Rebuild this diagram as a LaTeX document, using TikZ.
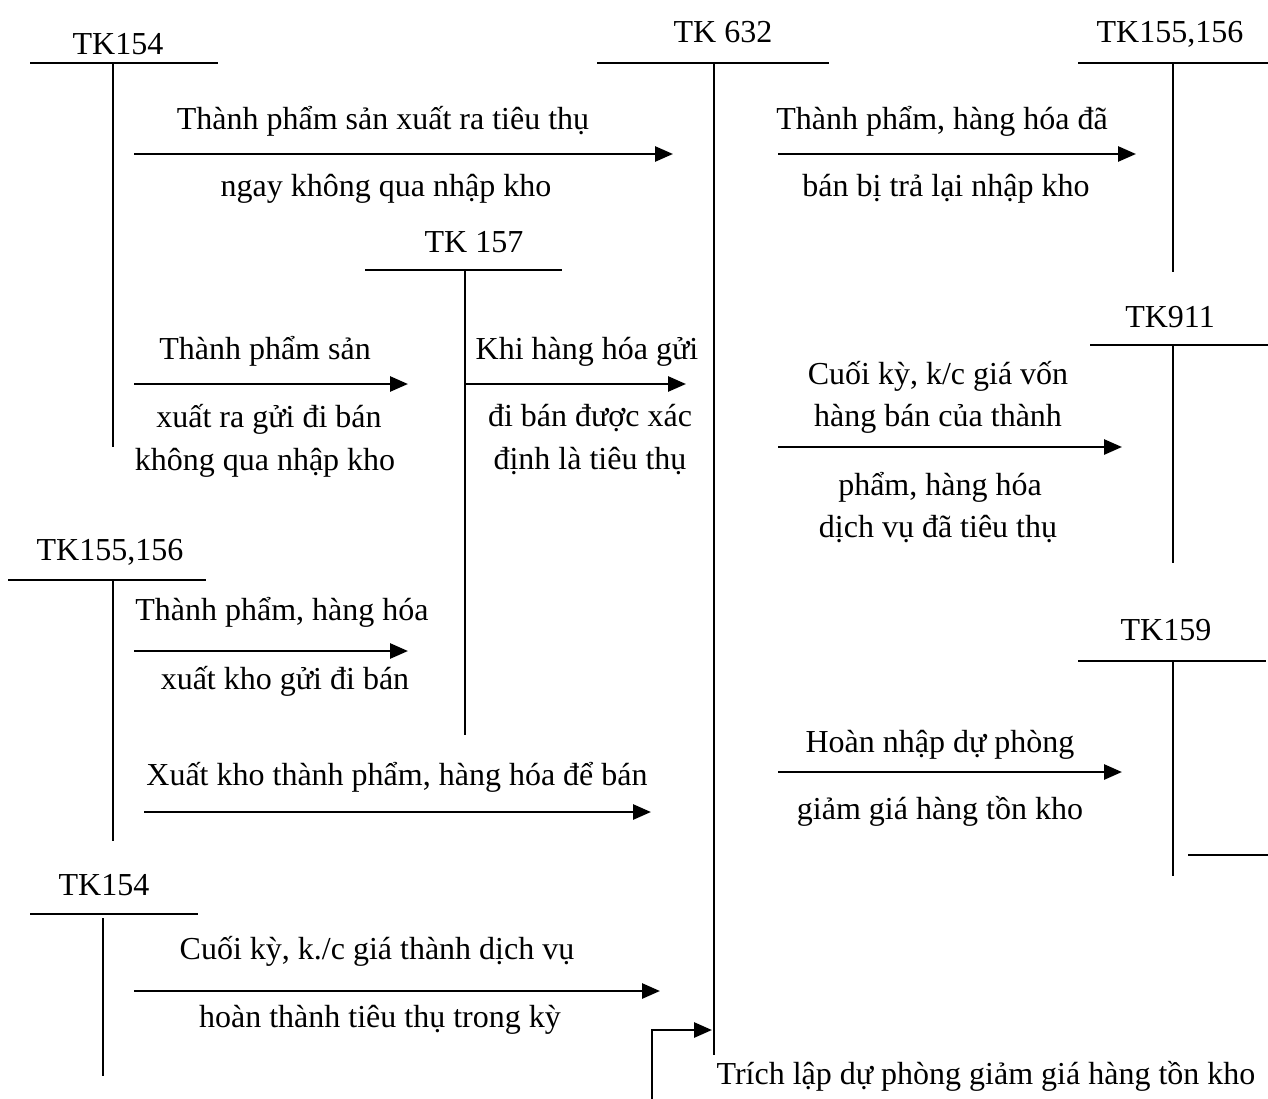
\documentclass[tikz,border=0pt]{standalone}
\usepackage{fontspec}
\setmainfont{Liberation Serif}
\usetikzlibrary{arrows.meta}
\begin{document}
\begin{tikzpicture}[x=1pt,y=-1pt,
  tline/.style={line width=2pt},
  vline/.style={line width=1.8pt},
  arr/.style={line width=2.8pt,-{Triangle[length=18pt,width=15pt]}},
  lbl/.style={anchor=base,inner sep=0pt,font=\fontsize{32}{38}\selectfont}]
\useasboundingbox (0,0) rectangle (1268,1099);
% ---- T accounts ----
% TK154 top
\node[lbl] (t154a) at (118,55) {TK154};
\coordinate (a1l) at (30,63); \coordinate (a1r) at (218,63);
\coordinate (a1t) at (113,63); \coordinate (a1b) at (113,447);
\draw[tline] (a1l) -- (a1r); \draw[vline] (a1t) -- (a1b);
% TK 632
\node[lbl] (t632) at (723,43) {TK 632};
\coordinate (a2l) at (597,63); \coordinate (a2r) at (829,63);
\coordinate (a2t) at (714,63); \coordinate (a2b) at (714,1055);
\draw[tline] (a2l) -- (a2r); \draw[vline] (a2t) -- (a2b);
% TK155,156 top right
\node[lbl] (t155a) at (1170,43) {TK155,156};
\coordinate (a3l) at (1078,63); \coordinate (a3r) at (1268,63);
\coordinate (a3t) at (1173,63); \coordinate (a3b) at (1173,272);
\draw[tline] (a3l) -- (a3r); \draw[vline] (a3t) -- (a3b);
% TK 157
\node[lbl] (t157) at (474,253) {TK 157};
\coordinate (a4l) at (365,270); \coordinate (a4r) at (562,270);
\coordinate (a4t) at (465,270); \coordinate (a4b) at (465,735);
\draw[tline] (a4l) -- (a4r); \draw[vline] (a4t) -- (a4b);
% TK911
\node[lbl] (t911) at (1170,327) {TK911};
\coordinate (a5l) at (1090,345); \coordinate (a5r) at (1268,345);
\coordinate (a5t) at (1173,345); \coordinate (a5b) at (1173,563);
\draw[tline] (a5l) -- (a5r); \draw[vline] (a5t) -- (a5b);
% TK155,156 left
\node[lbl] (t155b) at (110,560) {TK155,156};
\coordinate (a6l) at (8,580); \coordinate (a6r) at (206,580);
\coordinate (a6t) at (113,580); \coordinate (a6b) at (113,841);
\draw[tline] (a6l) -- (a6r); \draw[vline] (a6t) -- (a6b);
% TK159
\node[lbl] (t159) at (1166,640) {TK159};
\coordinate (a7l) at (1078,661); \coordinate (a7r) at (1266,661);
\coordinate (a7t) at (1173,661); \coordinate (a7b) at (1173,876);
\coordinate (a7sl) at (1188,855); \coordinate (a7sr) at (1268,855);
\draw[tline] (a7l) -- (a7r); \draw[vline] (a7t) -- (a7b);
\draw[tline] (a7sl) -- (a7sr);
% TK154 bottom
\node[lbl] (t154b) at (104,895) {TK154};
\coordinate (a8l) at (30,914); \coordinate (a8r) at (198,914);
\coordinate (a8t) at (103,918); \coordinate (a8b) at (103,1076);
\draw[tline] (a8l) -- (a8r); \draw[vline] (a8t) -- (a8b);
% ---- arrows ----
\coordinate (s1) at (134,154); \coordinate (e1) at (673,154);
\draw[arr] (s1) -- (e1);
\node[lbl] (l1a) at (383,130) {Thành phẩm sản xuất ra tiêu thụ};
\node[lbl] (l1b) at (386,197) {ngay không qua nhập kho};
\coordinate (s2) at (778,154); \coordinate (e2) at (1136,154);
\draw[arr] (s2) -- (e2);
\node[lbl] (l2a) at (942,130) {Thành phẩm, hàng hóa đã};
\node[lbl] (l2b) at (946,197) {bán bị trả lại nhập kho};
\coordinate (s3) at (134,384); \coordinate (e3) at (408,384);
\draw[arr] (s3) -- (e3);
\node[lbl] (l3a) at (265,359) {Thành phẩm sản};
\node[lbl] (l3b) at (269,427) {xuất ra gửi đi bán};
\node[lbl] (l3c) at (265,470) {không qua nhập kho};
\coordinate (s4) at (465,384); \coordinate (e4) at (686,384);
\draw[arr] (s4) -- (e4);
\node[lbl] (l4a) at (587,359) {Khi hàng hóa gửi};
\node[lbl] (l4b) at (590,426) {đi bán được xác};
\node[lbl] (l4c) at (590,469) {định là tiêu thụ};
\coordinate (s5) at (778,447); \coordinate (e5) at (1122,447);
\draw[arr] (s5) -- (e5);
\node[lbl] (l5a) at (938,384) {Cuối kỳ, k/c giá vốn};
\node[lbl] (l5b) at (938,426) {hàng bán của thành};
\node[lbl] (l5c) at (940,495) {phẩm, hàng hóa};
\node[lbl] (l5d) at (938,537) {dịch vụ đã tiêu thụ};
\coordinate (s6) at (134,651); \coordinate (e6) at (408,651);
\draw[arr] (s6) -- (e6);
\node[lbl] (l6a) at (282,620) {Thành phẩm, hàng hóa};
\node[lbl] (l6b) at (285,689) {xuất kho gửi đi bán};
\coordinate (s7) at (778,772); \coordinate (e7) at (1122,772);
\draw[arr] (s7) -- (e7);
\node[lbl] (l7a) at (940,752) {Hoàn nhập dự phòng};
\node[lbl] (l7b) at (940,819) {giảm giá hàng tồn kho};
\coordinate (s8) at (144,812); \coordinate (e8) at (651,812);
\draw[arr] (s8) -- (e8);
\node[lbl] (l8) at (397,785) {Xuất kho thành phẩm, hàng hóa để bán};
\coordinate (s9) at (134,991); \coordinate (e9) at (660,991);
\draw[arr] (s9) -- (e9);
\node[lbl] (l9a) at (377,959) {Cuối kỳ, k./c giá thành dịch vụ};
\node[lbl] (l9b) at (380,1027) {hoàn thành tiêu thụ trong kỳ};
\coordinate (s10) at (652,1099); \coordinate (c10) at (652,1030); \coordinate (e10) at (712,1030);
\draw[vline] (s10) -- (c10);
\draw[arr] ([xshift=-0.9pt]c10) -- (e10);
\node[lbl] (l10) at (986,1084) {Trích lập dự phòng giảm giá hàng tồn kho};
\end{tikzpicture}
\end{document}
